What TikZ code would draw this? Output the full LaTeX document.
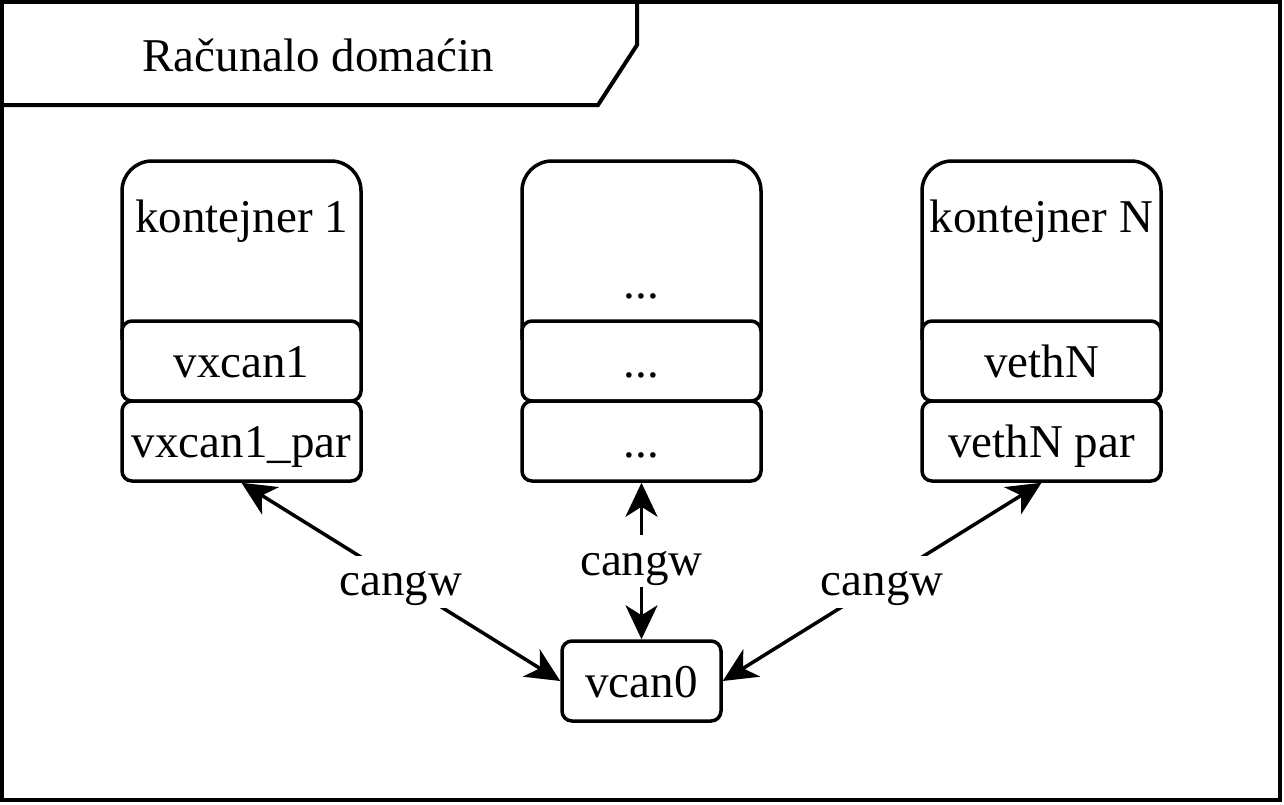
\documentclass[tikz,border=0pt]{standalone}
\usepackage{fontspec}
\setmainfont{Liberation Serif}
\usetikzlibrary{arrows.meta}
\begin{document}
\begin{tikzpicture}[x=1pt,y=-1pt,line width=3.5pt,
  bigfont/.style={font=\fontsize{47}{56}\selectfont},
  box/.style={draw, fill=white, rounded corners=10pt, minimum width=239pt,
    minimum height=80pt, inner sep=0pt, text height=33pt, text depth=0pt, bigfont},
  smallbox/.style={box, minimum width=159pt},
  lbl/.style={inner sep=0pt, text height=33pt, text depth=0pt, bigfont},
  edgelbl/.style={fill=white, inner xsep=2pt, inner ysep=5pt, text height=35pt, text depth=7pt, bigfont},
  link/.style={{Stealth[length=34pt,width=32pt,inset=10pt]}-{Stealth[length=34pt,width=32pt,inset=10pt]}},
  cont/.style={draw, rounded corners=30pt}
]
\useasboundingbox (0,0) rectangle (1284,804);
% outer frame and tab
\draw[line width=4pt] (2,2) rectangle (1280,800);
\draw[line width=4pt] (2,105) -- (598,105) -- (637,45) -- (637,2);
\node[lbl] (title) at (318,55) {Računalo domaćin};

% containers
\draw[cont] (122,340) -- (122,161) -- (361,161) -- (361,340);
\draw[cont] (522,340) -- (522,161) -- (761,161) -- (761,340);
\draw[cont] (922,340) -- (922,161) -- (1161,161) -- (1161,340);

\node[lbl] (k1) at (241.5,215.5) {kontejner 1};
\node[lbl] (km) at (641.5,281.5) {...};
\node[lbl] (kn) at (1041.5,215.5) {kontejner N};

\node[box] (v1) at (241.5,361) {vxcan1};
\node[box] (p1) at (241.5,441) {vxcan1\_par};
\node[box] (vm) at (641.5,361) {...};
\node[box] (pm) at (641.5,441) {...};
\node[box] (vn) at (1041.5,361) {vethN};
\node[box] (pn) at (1041.5,441) {vethN par};

\node[smallbox] (v0) at (641.5,681) {vcan0};

% links
\draw[link] (p1.south) -- (v0.west) node[midway, edgelbl] (c1) {cangw};
\draw[link] (pm.south) -- (v0.north) node[midway, edgelbl] (c2) {cangw};
\draw[link] (pn.south) -- (v0.east) node[midway, edgelbl] (c3) {cangw};
\end{tikzpicture}
\end{document}
